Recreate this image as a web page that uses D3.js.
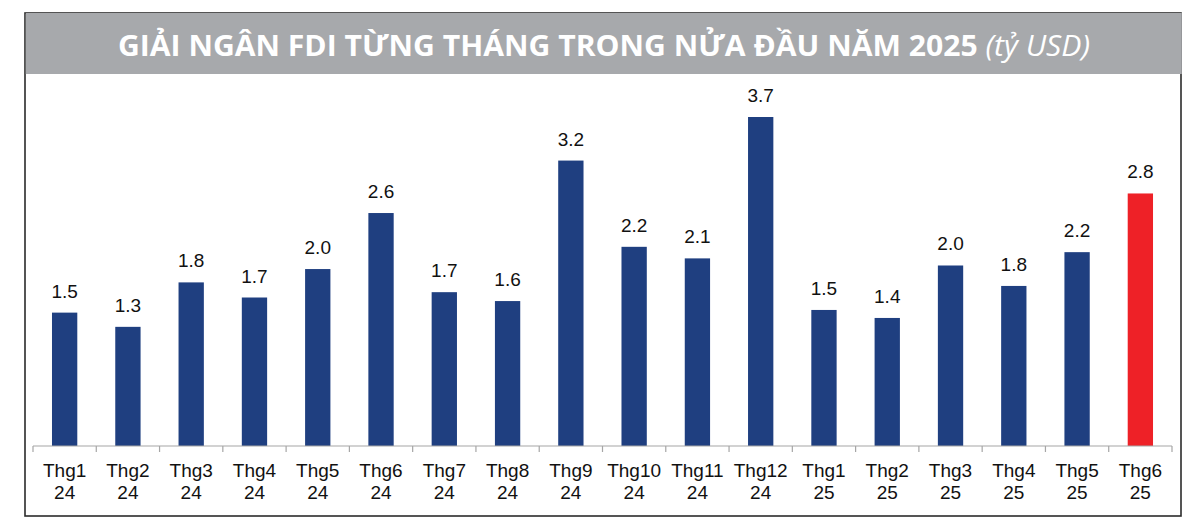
<!DOCTYPE html>
<head>
  <meta charset="utf-8">
  <script src="https://d3js.org/d3.v7.min.js"></script>
  <style>
    body { margin: 0; background: #fff; }
    svg { display: block; }
  </style>
</head>
<body>
  <svg width="1200" height="532"></svg>
  <script>
  var months = ["Thg1", "Thg2", "Thg3", "Thg4", "Thg5", "Thg6", "Thg7", "Thg8", "Thg9",
                "Thg10", "Thg11", "Thg12", "Thg1", "Thg2", "Thg3", "Thg4", "Thg5", "Thg6"];
  var years = ["24", "24", "24", "24", "24", "24", "24", "24", "24",
               "24", "24", "24", "25", "25", "25", "25", "25", "25"];
  var values = [1.5, 1.34, 1.84, 1.67, 1.99, 2.62, 1.73, 1.63, 3.21,
                2.24, 2.11, 3.70, 1.53, 1.44, 2.03, 1.80, 2.18, 2.84];
  var highlight = 17; // last month in red

  var svg = d3.select("svg");
  var data = values.map(function(v, i) { return { i: i, m: months[i], y: years[i], v: v }; });

  // frame + banner
  svg.append("rect").attr("x", 25).attr("y", 13).attr("width", 1156).attr("height", 503)
    .attr("fill", "#fff").attr("stroke", "#2b2b2b").attr("stroke-width", 1.6);
  svg.append("rect").attr("x", 25.8).attr("y", 13).attr("width", 1156).attr("height", 61)
    .attr("fill", "#a7a9ac");

  var title = svg.append("text").attr("x", 604).attr("y", 56)
    .attr("text-anchor", "middle").attr("fill", "#fff")
    .style("font-family", "'Open Sans', sans-serif").style("font-size", "29px");
  title.append("tspan").attr("font-weight", "bold").text("GIẢI NGÂN FDI TỪNG THÁNG TRONG NỬA ĐẦU NĂM 2025 ");
  title.append("tspan").attr("font-style", "italic").text("(tỷ USD)");
  title.attr("textLength", 972).attr("lengthAdjust", "spacingAndGlyphs");

  var x = d3.scaleBand().domain(d3.range(values.length)).range([33, 1172]).paddingInner(0.6).paddingOuter(0.3);
  var y = d3.scaleLinear().domain([0, 3.7]).range([446, 117]);

  svg.append("g").selectAll("rect").data(data).enter().append("rect")
    .attr("x", function(d) { return x(d.i); })
    .attr("width", x.bandwidth())
    .attr("y", function(d) { return y(d.v); })
    .attr("height", function(d) { return y(0) - y(d.v); })
    .attr("fill", function(d) { return d.i === highlight ? "#ee2127" : "#1f3f80"; });

  svg.append("g").selectAll("text").data(data).enter().append("text")
    .attr("x", function(d) { return x(d.i) + x.bandwidth() / 2; })
    .attr("y", function(d) { return y(d.v) - 15; })
    .attr("text-anchor", "middle").attr("fill", "#111")
    .style("font-family", "'Liberation Sans', Arial, sans-serif").style("font-size", "19px")
    .text(function(d) { return d.v.toFixed(1); });

  // axis
  var step = x.step();
  var axis = svg.append("g").attr("stroke", "#a6a6a6").attr("stroke-width", 1.2);
  axis.append("line").attr("x1", 33).attr("x2", 1172).attr("y1", 446).attr("y2", 446);
  axis.selectAll("line.tick").data(d3.range(values.length + 1)).enter().append("line")
    .attr("class", "tick")
    .attr("x1", function(d) { return 33 + d * step; })
    .attr("x2", function(d) { return 33 + d * step; })
    .attr("y1", 446).attr("y2", 452);

  var lab = svg.append("g").selectAll("text").data(data).enter().append("text")
    .attr("text-anchor", "middle").attr("fill", "#111")
    .style("font-family", "'Liberation Sans', Arial, sans-serif").style("font-size", "19px");
  lab.append("tspan")
    .attr("x", function(d) { return x(d.i) + x.bandwidth() / 2; })
    .attr("y", 477).text(function(d) { return d.m; });
  lab.append("tspan")
    .attr("x", function(d) { return x(d.i) + x.bandwidth() / 2; })
    .attr("y", 499).text(function(d) { return d.y; });
  </script>
</body>
